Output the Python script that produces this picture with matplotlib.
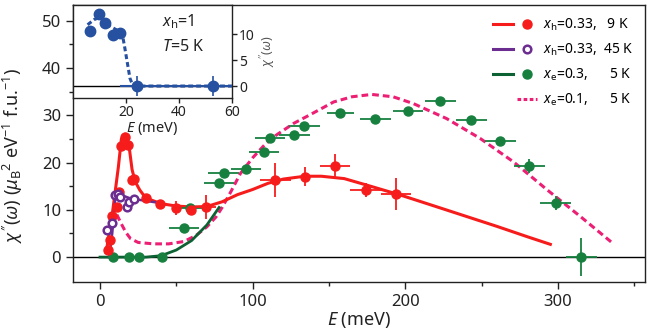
import numpy as np
import matplotlib.pyplot as plt
from matplotlib.lines import Line2D
from matplotlib.legend_handler import HandlerTuple

plt.rcParams['font.family'] = ['Noto Sans', 'DejaVu Sans']
plt.rcParams['mathtext.fontset'] = 'custom'
plt.rcParams['mathtext.rm'] = 'Noto Sans'
plt.rcParams['mathtext.it'] = 'Noto Sans:italic'
plt.rcParams['mathtext.bf'] = 'Noto Sans:bold'

RED = '#f71c1c'
PURPLE = '#6b2d90'
GREEN = '#17803f'
DGREEN = '#0d6234'
PINK = '#ec1f74'
BLUE = '#2650a0'

# x_h = 0.33, 9 K
red_E = [5.5, 6.6, 7.7, 10.9, 12.7, 13.8, 16.4, 18.6, 20.8, 22.3, 30.2, 39.3, 49.8, 59.7, 69.3,
         114.8, 134.4, 154.0, 174.0, 194.0]
red_chi = [1.6, 3.6, 8.7, 10.6, 13.8, 23.5, 25.3, 23.7, 16.3, 16.6, 12.5, 11.3, 10.4, 9.9, 10.6,
           16.3, 17.0, 19.2, 14.2, 13.3]
red_xerr = [0, 0, 0, 0, 0, 0, 0, 0, 0, 0, 0, 0, 0, 0, 7,
            10, 3, 10, 10, 10]
red_yerr = [0, 0, 0, 0, 0, 0, 0, 0, 0, 0, 0, 0, 1.5, 0, 2.5,
            3.5, 2.0, 2.5, 1.5, 3.4]
red_fit_E = [4, 8, 12, 14, 16.5, 19, 21, 23, 26, 30, 40, 50, 60, 70, 80, 90, 100, 110, 120,
             134, 145, 160, 175, 197, 220, 240, 260, 280, 295]
red_fit_chi = [1, 9, 19, 25, 26, 23.5, 18.5, 16, 14.2, 12.5, 11.3, 10.8, 10.6, 10.7, 11.7, 13.2,
               14.3, 15.6, 16.5, 17.1, 17.1, 16.6, 15.2, 13.1, 10.7, 8.6, 6.5, 4.3, 2.7]

# x_h = 0.33, 45 K
pur_E = [4.4, 8.1, 9.8, 11.6, 13.1, 17.5, 19.2, 22.5]
pur_chi = [5.7, 7.3, 13.1, 13.3, 12.7, 10.6, 11.7, 12.2]
pur_fit_E = [6, 8, 10, 12, 15, 20, 30, 40]
pur_fit_chi = [0, 5, 12.5, 13.5, 13, 12.4, 11.9, 11.4]

# x_e = 0.3, 5 K
grn_E = [8.7, 19, 25.8, 40.4, 55, 59, 78, 80.9, 95.5, 107.5, 111.5, 127.4, 133.8,
         157.4, 180.3, 201.8, 223, 243.3, 262.3, 281.3, 298.4, 315.4]
grn_chi = [0, 0, 0, 0, 6.2, 10.4, 15.7, 17.7, 18.7, 22.3, 25.1, 25.8, 27.7,
           30.5, 29.3, 30.9, 33.0, 28.9, 24.5, 19.2, 11.5, 0]
grn_xerr = [0, 0, 0, 0, 10, 10, 10, 10, 10, 10, 10, 10, 10,
            9, 10, 10, 10, 10, 10, 10, 10, 10]
grn_yerr = [0, 0, 0, 0, 0, 0, 0, 0, 0, 0, 0, 0, 0,
            0, 0, 0, 0, 0, 0, 1.5, 1.5, 4.0]
grn_fit_E = [0, 30, 40, 50, 60, 70, 78]
grn_fit_chi = [0, 0, 0.3, 1.5, 3.5, 6.8, 10.5]

# x_e = 0.1, 5 K
pink_E = [11, 14, 17, 20, 25, 35, 45, 55, 63, 70, 76, 80, 86, 92, 100, 108, 115, 127, 137,
          153, 165, 178, 192, 205, 227, 249, 271, 293, 315, 336]
pink_chi = [9, 7, 5.2, 3.9, 3.1, 2.8, 2.8, 3.3, 4.6, 6.4, 8.5, 10.5, 14, 17.7, 21, 23.8, 25.7,
            28.3, 30, 32.8, 33.9, 34.4, 33.9, 32.5, 29.3, 25.1, 20.1, 14.2, 8.5, 2.9]

# inset: x_h = 1, T = 5 K
in_E = [6.5, 9.7, 12.2, 15.1, 17.8, 24, 53]
in_chi = [10.6, 13.8, 12.1, 9.8, 10.3, 0, 0]
in_yerr = [0, 0, 0, 0, 0, 2.0, 2.0]
in_fit_E = [5.5, 8, 10, 12, 14, 16.5, 18.5, 19.5, 20.5, 21.5, 22.5, 24, 60]
in_fit_chi = [11.8, 12.8, 13.2, 12.6, 11.5, 10.8, 10.3, 7.5, 4.5, 1.5, 0.2, 0, 0]

fig = plt.figure(figsize=(6.5, 3.36), dpi=100)
ax = fig.add_axes([0.1123, 0.1616, 0.88, 0.8234])

ax.axhline(0, color='black', lw=1, zorder=1)
ax.plot(pink_E, pink_chi, color=PINK, lw=2.2, ls=(0, (2.2, 1.3)), zorder=2)
ax.plot(grn_fit_E, grn_fit_chi, color=DGREEN, lw=2, zorder=3)
ax.plot(red_fit_E, red_fit_chi, color=RED, lw=2.2, zorder=4)
ax.plot(pur_fit_E, pur_fit_chi, color=PURPLE, lw=1.8, zorder=5)

ax.errorbar(grn_E, grn_chi, xerr=grn_xerr, yerr=grn_yerr, fmt='o', color=GREEN, ms=6.5,
            elinewidth=1.3, capsize=0, zorder=6)
ax.errorbar(red_E, red_chi, xerr=red_xerr, yerr=red_yerr, fmt='o', color=RED, ms=6.5,
            elinewidth=1.3, capsize=0, zorder=7)
ax.plot(pur_E, pur_chi, 'o', mfc='white', mec=PURPLE, mew=1.8, ms=5.5, zorder=8)

ax.set_xlim(-17.7, 357)
ax.set_ylim(-5.2, 53.3)
ax.set_xticks([0, 100, 200, 300])
ax.set_xticks([50, 150, 250, 350], minor=True)
ax.set_yticks([0, 10, 20, 30, 40, 50])
ax.set_yticks([5, 15, 25, 35, 45], minor=True)
ax.tick_params(which='both', direction='out', labelsize=12, width=1, color='#222222',
               labelcolor='#222222')
ax.tick_params(which='major', length=5)
ax.tick_params(which='minor', length=3)
for s in ax.spines.values():
    s.set_linewidth(1)
    s.set_color('#222222')
ax.set_xlabel(r'$E$ (meV)', fontsize=13, color='#222222', labelpad=0)
ax.set_ylabel(r"$\chi''(\omega)$ ($\mu_{\mathrm{B}}$$^{2}$ eV$^{-1}$ f.u.$^{-1}$)",
              fontsize=13, color='#222222')
ax.yaxis.set_label_coords(-0.084, 0.455)

h_red = (Line2D([], [], color=RED, lw=2.2), Line2D([], [], ls='', marker='o', color=RED, ms=6.5))
h_pur = (Line2D([], [], color=PURPLE, lw=2.2),
         Line2D([], [], ls='', marker='o', mfc='white', mec=PURPLE, mew=1.8, ms=5.5))
h_grn = (Line2D([], [], color=DGREEN, lw=2.2), Line2D([], [], ls='', marker='o', color=GREEN, ms=6.5))
h_pink = (Line2D([], [], ls=''), Line2D([], [], color=PINK, lw=2.2, ls=(0, (1.2, 0.8))))
labels = [r'$x_{\mathrm{h}}$=0.33,   9 K', r'$x_{\mathrm{h}}$=0.33,  45 K',
          r'$x_{\mathrm{e}}$=0.3,      5 K', r'$x_{\mathrm{e}}$=0.1,      5 K']
leg = ax.legend([h_red, h_pur, h_grn, h_pink], labels,
                handler_map={tuple: HandlerTuple(ndivide=2, pad=0.3)},
                loc='upper right', bbox_to_anchor=(1.0, 1.0), frameon=False, fontsize=10,
                handlelength=3.2, handletextpad=0.4, labelspacing=0.62, borderaxespad=0.45)

# inset
axi = fig.add_axes([0.1123, 0.7083, 0.2446, 0.2768])
axi.set_facecolor('white')
axi.axhline(0, color='black', lw=1, zorder=1)
axi.plot([18, 60], [0, 0], color=BLUE, lw=1.5, zorder=2)
axi.plot(in_fit_E, in_fit_chi, color=BLUE, lw=2.2, ls=(0, (1.6, 1.0)), zorder=3)
axi.errorbar(in_E, in_chi, yerr=in_yerr, fmt='o', color=BLUE, ms=7.5, elinewidth=1.2,
             capsize=0, zorder=4)
axi.set_xlim(0, 60)
axi.set_ylim(-2.3, 15.6)
axi.set_xticks([20, 40, 60])
axi.set_yticks([0, 5, 10])
axi.yaxis.tick_right()
axi.yaxis.set_label_position('right')
axi.tick_params(direction='out', length=3.5, width=1, labelsize=10, pad=1.5,
                color='#222222', labelcolor='#222222')
for s in axi.spines.values():
    s.set_linewidth(1)
    s.set_color('#222222')
axi.set_xlabel(r'$E$ (meV)', fontsize=10.5, labelpad=0, color='#222222')
axi.set_ylabel(r"$\chi''(\omega)$", fontsize=9, color='#555555', labelpad=3)
axi.text(0.56, 0.82, r'$x_{\mathrm{h}}$=1', transform=axi.transAxes, fontsize=11.5,
         va='center', color='#222222')
axi.text(0.56, 0.55, r'$T$=5 K', transform=axi.transAxes, fontsize=11.5,
         va='center', color='#222222')

fig.savefig('out.png', dpi=100)
